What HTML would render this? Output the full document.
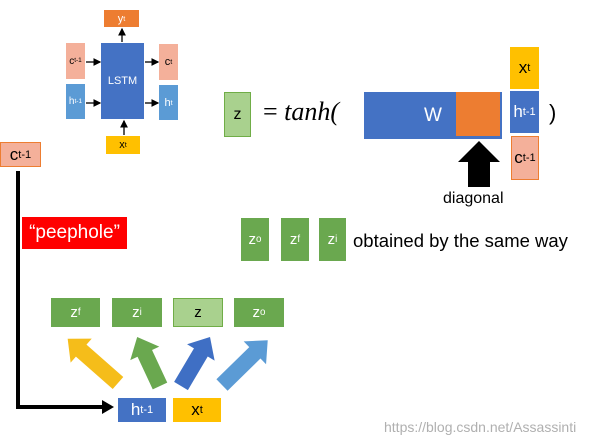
<!DOCTYPE html>
<html><head><meta charset="utf-8"><style>
body{margin:0;width:615px;height:445px;background:#fff;overflow:hidden;position:relative;font-family:"Liberation Sans",sans-serif}
.b{position:absolute;display:flex;align-items:center;justify-content:center;box-sizing:border-box}
sup{font-size:0.65em;vertical-align:0.55em;line-height:0}
</style></head><body>
<svg width="615" height="445" style="position:absolute;left:0;top:0">
<defs><marker id="m" markerWidth="6" markerHeight="6" refX="5" refY="3" orient="auto"><path d="M0,0L6,3L0,6z" fill="#000"/></marker></defs>
<g stroke="#000" stroke-width="1.3" marker-end="url(#m)">
<line x1="122" y1="42" x2="122" y2="29"/>
<line x1="86" y1="62" x2="100" y2="62"/>
<line x1="86" y1="103" x2="100" y2="103"/>
<line x1="145" y1="62" x2="158" y2="62"/>
<line x1="145" y1="103" x2="158" y2="103"/>
<line x1="124" y1="135" x2="124" y2="121"/>
</g>
<path d="M18,171 V407 H104" stroke="#000" stroke-width="4" fill="none"/>
<path d="M102,400 L114,407 L102,414z" fill="#000"/>
<polygon points="468,187 490,187 490,162 500,162 479,141 458,162 468,162" fill="#000"/>
<g>
<polygon transform="translate(118,383) rotate(-138.7)" points="0,-8 49,-8 49,-16 67,0 49,16 49,8 0,8" fill="#f5bd1a"/>
<polygon transform="translate(160,386) rotate(-115)" points="0,-8 36,-8 36,-16 54,0 36,16 36,8 0,8" fill="#6aa84f"/>
<polygon transform="translate(181,386) rotate(-59.4)" points="0,-8 39,-8 39,-16 57,0 39,16 39,8 0,8" fill="#3f6fc4"/>
<polygon transform="translate(222,385) rotate(-44.4)" points="0,-8 46,-8 46,-16 64,0 46,16 46,8 0,8" fill="#5b9bd5"/>
</g>
</svg>
<div class="b" style="left:104px;top:10px;width:35px;height:17px;background:#ed7d31;color:#fff;font-size:11px">y<sup>t</sup></div>
<div class="b" style="left:101px;top:43px;width:43px;height:76px;background:#4472c4;color:#fff;font-size:11px">LSTM</div>
<div class="b" style="left:66px;top:43px;width:19px;height:36px;background:#f4b09a;font-size:10px">c<sup>t-1</sup></div>
<div class="b" style="left:66px;top:84px;width:19px;height:35px;background:#5b9bd5;color:#fff;font-size:10px">h<sup>t-1</sup></div>
<div class="b" style="left:159px;top:44px;width:19px;height:36px;background:#f4b09a;font-size:11px">c<sup>t</sup></div>
<div class="b" style="left:159px;top:85px;width:19px;height:35px;background:#5b9bd5;color:#fff;font-size:11px">h<sup>t</sup></div>
<div class="b" style="left:106px;top:136px;width:34px;height:18px;background:#ffc000;font-size:11px">x<sup>t</sup></div>
<div class="b" style="left:0;top:142px;width:41px;height:25px;background:#f4b09a;border:1px solid #ed7d31;font-size:17px">c<sup>t-1</sup></div>
<div class="b" style="left:22px;top:217px;width:105px;height:32px;background:#f00;color:#fff;font-size:19px">“peephole”</div>
<div class="b" style="left:224px;top:92px;width:27px;height:45px;background:#a9d18e;border:1px solid #70ad47;font-size:16px">z</div>
<div style="position:absolute;left:263px;top:97px;font-family:'Liberation Serif',serif;font-size:26px;font-style:italic"><span style="font-style:normal">=</span> tanh(</div>
<div class="b" style="left:364px;top:92px;width:138px;height:47px;background:#4472c4;color:#fff;font-size:19px;justify-content:flex-start;padding-left:60px">W</div>
<div style="position:absolute;left:456px;top:92px;width:44px;height:44px;background:#ed7d31"></div>
<div class="b" style="left:510px;top:47px;width:29px;height:42px;background:#ffc000;font-size:17px">x<sup>t</sup></div>
<div class="b" style="left:510px;top:91px;width:29px;height:42px;background:#4472c4;color:#fff;font-size:17px">h<sup>t-1</sup></div>
<div class="b" style="left:511px;top:136px;width:28px;height:44px;background:#f4b09a;border:1px solid #ed7d31;font-size:17px">c<sup>t-1</sup></div>
<div style="position:absolute;left:549px;top:100px;font-size:22px">)</div>
<div style="position:absolute;left:443px;top:190px;font-size:16px">diagonal</div>
<div class="b" style="left:241px;top:218px;width:28px;height:43px;background:#6aa84f;color:#fff;font-size:15px">z<sup>o</sup></div>
<div class="b" style="left:281px;top:218px;width:28px;height:43px;background:#6aa84f;color:#fff;font-size:15px">z<sup>f</sup></div>
<div class="b" style="left:319px;top:218px;width:27px;height:43px;background:#6aa84f;color:#fff;font-size:15px">z<sup>i</sup></div>
<div style="position:absolute;left:353px;top:230px;font-size:18.5px">obtained by the same way</div>
<div class="b" style="left:51px;top:298px;width:49px;height:29px;background:#6aa84f;color:#fff;font-size:15px">z<sup>f</sup></div>
<div class="b" style="left:112px;top:298px;width:50px;height:29px;background:#6aa84f;color:#fff;font-size:15px">z<sup>i</sup></div>
<div class="b" style="left:173px;top:298px;width:50px;height:29px;background:#a9d18e;border:1px solid #70ad47;font-size:15px">z</div>
<div class="b" style="left:234px;top:298px;width:50px;height:29px;background:#6aa84f;color:#fff;font-size:15px">z<sup>o</sup></div>
<div class="b" style="left:118px;top:398px;width:48px;height:24px;background:#4472c4;color:#fff;font-size:17px">h<sup>t-1</sup></div>
<div class="b" style="left:173px;top:398px;width:48px;height:24px;background:#ffc000;font-size:17px">x<sup>t</sup></div>
<div style="position:absolute;left:384px;top:419px;font-size:14px;color:#b0b0b0">https://blog.csdn.net/Assassinti</div>
</body></html>
